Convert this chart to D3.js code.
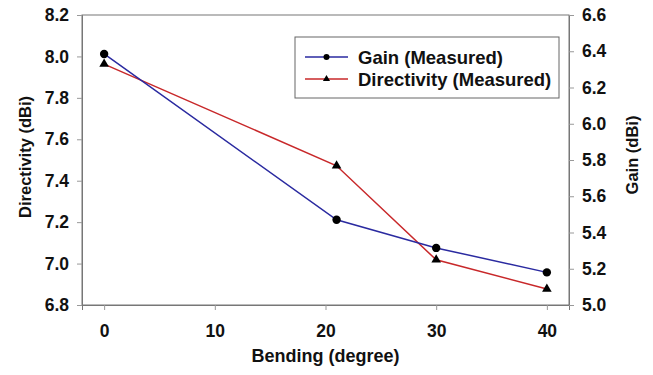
<!DOCTYPE html>
<html>
<head>
<meta charset="utf-8">
<script src="https://cdn.jsdelivr.net/npm/d3@7"></script>
<style>
  body { margin: 0; background: #fff; }
  text { font-family: "Liberation Sans", Arial, sans-serif; font-weight: bold; fill: #111; }
</style>
</head>
<body>
<div id="chart"></div>
<script>
let width = 653;
let height = 375;

// data
let bending = [0, 21, 30, 40];
let gain = [6.385, 5.47, 5.315, 5.18];          // right axis
let directivity = [7.963, 7.472, 7.018, 6.877]; // left axis

let xTicks = [0, 10, 20, 30, 40];
let leftTicks = [6.8, 7.0, 7.2, 7.4, 7.6, 7.8, 8.0, 8.2];
let rightTicks = [5.0, 5.2, 5.4, 5.6, 5.8, 6.0, 6.2, 6.4, 6.6];

let margin = {left: 82, right: 84, top: 15, bottom: 70};

function chart() {
    let x = d3.scaleLinear().domain([-2, 42]).range([margin.left, width - margin.right]);
    let yL = d3.scaleLinear().domain([6.8, 8.2]).range([height - margin.bottom, margin.top]);
    let yR = d3.scaleLinear().domain([5.0, 6.6]).range([height - margin.bottom, margin.top]);

    let svg = d3.select("#chart").append("svg")
        .attr("width", width)
        .attr("height", height);

    // frame
    svg.append("rect")
        .attr("x", margin.left).attr("y", margin.top)
        .attr("width", width - margin.left - margin.right)
        .attr("height", height - margin.top - margin.bottom)
        .attr("fill", "none").attr("stroke", "#777").attr("stroke-width", 1);

    let fmt = d3.format(".1f");

    let gx = svg.append("g")
        .attr("transform", `translate(0,${height - margin.bottom})`)
        .call(d3.axisBottom(x).tickValues(xTicks).tickSize(5).tickPadding(15));
    let gl = svg.append("g")
        .attr("transform", `translate(${margin.left},0)`)
        .call(d3.axisLeft(yL).tickValues(leftTicks).tickFormat(fmt).tickSize(5).tickPadding(8));
    let gr = svg.append("g")
        .attr("transform", `translate(${width - margin.right},0)`)
        .call(d3.axisRight(yR).tickValues(rightTicks).tickFormat(fmt).tickSize(5).tickPadding(8));

    [gx, gl, gr].forEach(g => {
        g.select(".domain").attr("stroke", "#777");
        g.selectAll(".tick line").attr("stroke", "#999");
        g.selectAll(".tick text").attr("font-size", 17.5).attr("fill", "#111")
            .attr("font-family", "Liberation Sans, Arial, sans-serif").attr("font-weight", "bold");
    });

    // axis titles
    svg.append("text")
        .attr("x", (x(-2) + x(42)) / 2).attr("y", 362)
        .attr("text-anchor", "middle").attr("font-size", 18)
        .text("Bending (degree)");
    svg.append("text")
        .attr("transform", `translate(31,${(margin.top + height - margin.bottom) / 2 - 3}) rotate(-90)`)
        .attr("text-anchor", "middle").attr("font-size", 16.5)
        .text("Directivity (dBi)");
    svg.append("text")
        .attr("transform", `translate(638,${(margin.top + height - margin.bottom) / 2 - 5}) rotate(-90)`)
        .attr("text-anchor", "middle").attr("font-size", 16.5)
        .text("Gain (dBi)");

    let gainData = bending.map((b, i) => ({x: b, y: gain[i]}));
    let dirData = bending.map((b, i) => ({x: b, y: directivity[i]}));

    let lineR = d3.line().x(d => x(d.x)).y(d => yR(d.y));
    let lineL = d3.line().x(d => x(d.x)).y(d => yL(d.y));

    svg.append("path").datum(dirData)
        .attr("d", lineL).attr("fill", "none")
        .attr("stroke", "#c8282a").attr("stroke-width", 1.5);
    svg.append("path").datum(gainData)
        .attr("d", lineR).attr("fill", "none")
        .attr("stroke", "#2a2aa0").attr("stroke-width", 1.5);

    let tri = d3.symbol().type(d3.symbolTriangle).size(40);

    svg.selectAll(".tri").data(dirData).enter().append("path")
        .attr("class", "tri")
        .attr("d", tri)
        .attr("transform", d => `translate(${x(d.x)},${yL(d.y)})`)
        .attr("fill", "#000");
    svg.selectAll(".dot").data(gainData).enter().append("circle")
        .attr("class", "dot")
        .attr("cx", d => x(d.x)).attr("cy", d => yR(d.y))
        .attr("r", 4.2).attr("fill", "#000");

    // legend
    let lg = svg.append("g");
    lg.append("rect")
        .attr("x", 295).attr("y", 37).attr("width", 264).attr("height", 61)
        .attr("fill", "#fff").attr("stroke", "#666").attr("stroke-width", 1);
    let items = [
        {label: "Gain (Measured)", color: "#2a2aa0", mark: "circle"},
        {label: "Directivity (Measured)", color: "#c8282a", mark: "tri"}
    ];
    items.forEach((it, i) => {
        let yy = 57 + i * 22;
        lg.append("line").attr("x1", 305).attr("x2", 348).attr("y1", yy).attr("y2", yy)
            .attr("stroke", it.color).attr("stroke-width", 1.5);
        if (it.mark === "circle") {
            lg.append("circle").attr("cx", 326.5).attr("cy", yy).attr("r", 3).attr("fill", "#000");
        } else {
            lg.append("path").attr("d", d3.symbol().type(d3.symbolTriangle).size(22))
                .attr("transform", `translate(326.5,${yy})`).attr("fill", "#000");
        }
        lg.append("text").attr("x", 358).attr("y", yy + 6.5)
            .attr("font-size", 18.5).text(it.label);
    });
}

chart();
</script>
</body>
</html>
